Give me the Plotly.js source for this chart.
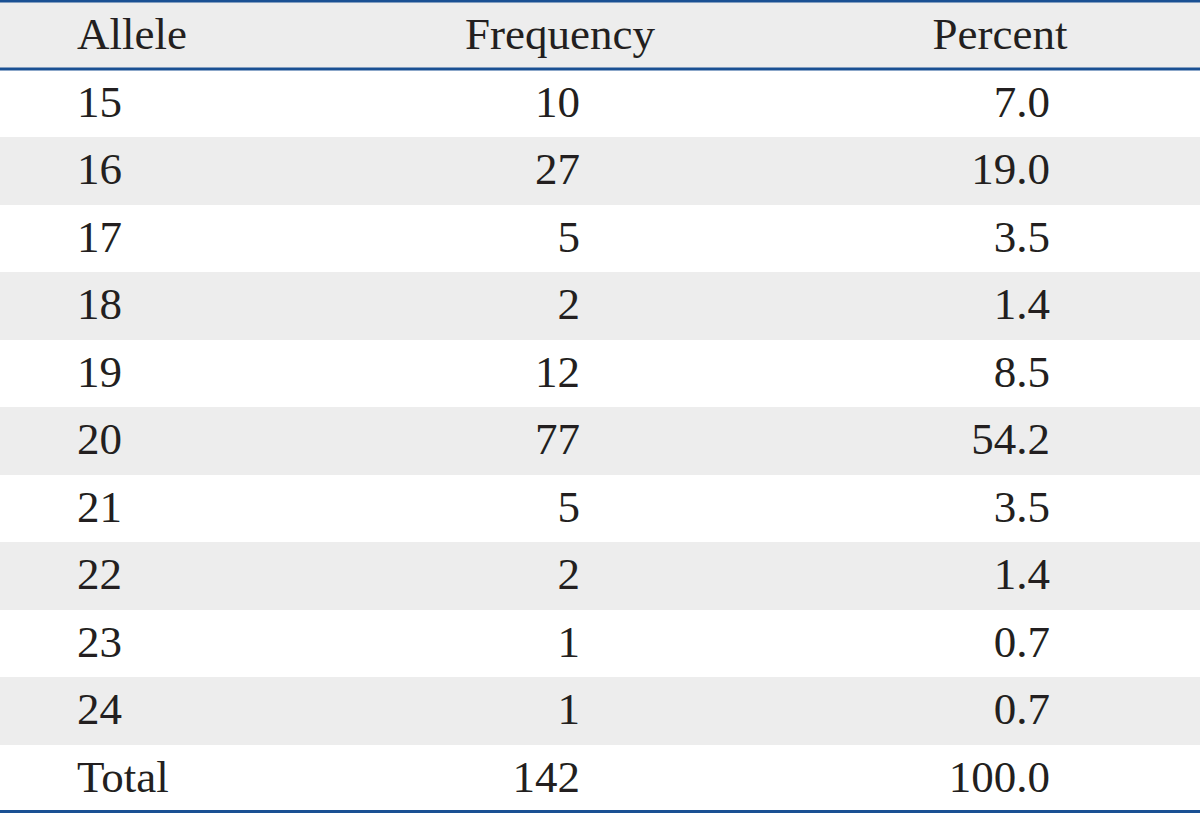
<!DOCTYPE html>
<html>
<head>
<meta charset="utf-8">
<script src="https://cdn.plot.ly/plotly-3.0.1.min.js"></script>
<style>html,body{margin:0;padding:0;background:#fff;}#chart{width:1200px;height:813px;}</style>
</head>
<body>
<div id="chart"></div>
<script>
// ---- data ----
var headers = ["Allele", "Frequency", "Percent"];
var alleles = ["15", "16", "17", "18", "19", "20", "21", "22", "23", "24", "Total"];
var frequency = [10, 27, 5, 2, 12, 77, 5, 2, 1, 1, 142];
var percent = [7.0, 19.0, 3.5, 1.4, 8.5, 54.2, 3.5, 1.4, 0.7, 0.7, 100.0];

// ---- style / layout constants ----
var W = 1200, H = 813;
var GRAY = "#ededed", WHITE = "#ffffff", BLUE = "#1a5093", INK = "#231f20";
var FONT = {family: "Liberation Serif, Times New Roman, serif", size: 45, color: INK};
var headerPx = 69.5, rowPx = 67.5;
var yTop = -1.5 - (headerPx - rowPx) / rowPx;           // pixel 0
var yBottom = (H - headerPx) / rowPx - 0.5;             // pixel H
var textShift = 2 / rowPx;                              // small downward nudge of text
var colX = {allele: 77, freqRight: 580, pctRight: 1050, freqHead: 560, pctHead: 1000};

// row indices: header = -1, body rows 0..n-1
var rowIdx = alleles.map(function (_, i) { return i; });
var textY = rowIdx.map(function (i) { return i + textShift; });
var headY = -1 + textShift;
var bandY = [-1].concat(rowIdx);
var bandColor = [GRAY].concat(rowIdx.map(function (i) { return i % 2 ? GRAY : WHITE; }));
var bandLen = bandY.map(function () { return W; });

var traces = [
  {
    type: "bar", orientation: "h",
    y: bandY, x: bandLen, base: 0, width: 1,
    marker: {color: bandColor, line: {width: 0}},
    hoverinfo: "skip"
  },
  {
    type: "scatter", mode: "text",
    x: [colX.allele, colX.freqHead, colX.pctHead], y: [headY, headY, headY],
    text: headers,
    textposition: ["middle right", "middle center", "middle center"],
    textfont: FONT, hoverinfo: "skip"
  },
  {
    type: "scatter", mode: "text",
    x: rowIdx.map(function () { return colX.allele; }), y: textY,
    text: alleles, textposition: "middle right",
    textfont: FONT, hoverinfo: "skip"
  },
  {
    type: "scatter", mode: "text",
    x: rowIdx.map(function () { return colX.freqRight; }), y: textY,
    text: frequency, textposition: "middle left",
    textfont: FONT, hoverinfo: "skip"
  },
  {
    type: "scatter", mode: "text",
    x: rowIdx.map(function () { return colX.pctRight; }), y: textY,
    customdata: percent, texttemplate: "%{customdata:.1f}", textposition: "middle left",
    textfont: FONT, hoverinfo: "skip"
  }
];

var layout = {
  width: W, height: H,
  margin: {l: 0, r: 0, t: 0, b: 0, pad: 0},
  paper_bgcolor: WHITE, plot_bgcolor: WHITE,
  showlegend: false,
  bargap: 0,
  xaxis: {range: [0, W], visible: false, fixedrange: true},
  yaxis: {range: [yBottom, yTop], visible: false, fixedrange: true},
  shapes: [
    {type: "line", xref: "paper", yref: "paper", x0: 0, x1: 1, y0: 1 - 1.2 / H, y1: 1 - 1.2 / H, line: {color: BLUE, width: 2.5}},
    {type: "line", xref: "paper", yref: "paper", x0: 0, x1: 1, y0: 1 - 69 / H, y1: 1 - 69 / H, line: {color: BLUE, width: 3}},
    {type: "line", xref: "paper", yref: "paper", x0: 0, x1: 1, y0: 1.5 / H, y1: 1.5 / H, line: {color: BLUE, width: 3}}
  ]
};

Plotly.newPlot("chart", traces, layout, {displayModeBar: false, staticPlot: true});
</script>
</body>
</html>
